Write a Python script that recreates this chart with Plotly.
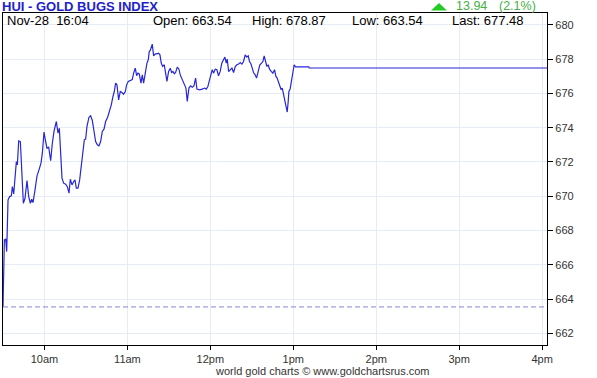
import datetime as dt
import plotly.graph_objects as go

# ---- data ----
session_date = "2023-11-28"
open_time = "09:30"
minutes_after_open = [
    0, 1.0, 1.95, 2.67, 3.64, 4.84, 6.05, 6.77, 7.74, 8.94,
    9.66, 10.39, 11.35, 12.55, 13.52, 14.72, 15.93, 17.37, 18.58, 19.78,
    20.75, 21.71, 23.16, 24.6, 26.05, 27.49, 28.46, 29.66, 30.63, 31.83,
    33.04, 34.48, 35.69, 36.89, 38.58, 39.78, 40.75, 41.71, 42.68, 43.88,
    45.33, 46.53, 47.74, 48.7, 49.9, 51.11, 52.07, 53.04, 54.24, 55.45,
    56.41, 57.62, 58.82, 59.78, 60.75, 62.19, 63.4, 64.6, 65.81, 67.01,
    68.22, 69.42, 70.63, 71.83, 73.04, 74.24, 75.69, 77.13, 78.34, 79.54,
    80.51, 81.47, 82.43, 83.64, 84.84, 86.05, 87.25, 88.46, 89.42, 90.63,
    92.07, 93.52, 94.48, 95.69, 96.65, 97.62, 98.58, 99.79, 100.75, 101.72,
    102.92, 104.13, 105.09, 105.81, 106.53, 107.98, 108.94, 110.15, 111.35, 112.56,
    113.52, 114.48, 115.45, 116.65, 117.62, 118.58, 119.79, 120.99, 121.96, 122.92,
    123.89, 124.85, 126.06, 127.26, 128.22, 129.19, 130.15, 131.36, 132.32, 133.28,
    134.49, 135.69, 136.9, 138.1, 139.31, 140.27, 142.2, 144.1, 145.8, 147.0,
    148.2, 149.4, 150.4, 151.35, 152.3, 153.5, 154.7, 155.9, 157.1, 158.3,
    159.5, 160.5, 161.5, 162.2, 163.2, 164.4, 165.6, 166.8, 168.0, 169.2,
    170.4, 171.6, 172.8, 174.0, 175.2, 176.4, 177.4, 178.3, 179.3, 180.3,
    181.2, 182.4, 183.4, 184.6, 185.8, 187.0, 188.0, 188.9, 189.9, 190.9,
    191.8, 192.8, 194.0, 195.2, 196.4, 197.4, 198.3, 199.3, 200.3, 201.2,
    202.0, 202.9, 203.9, 204.9, 205.6, 206.3, 206.8, 207.7, 208.7, 209.7,
    210.6, 211.6, 221.2, 221.5, 394,
]
index_values = [
    663.54, 667.45, 667.49, 666.77, 669.78, 669.98, 670.02, 670.56, 670.13, 671.15,
    672.02, 671.83, 673.23, 673.19, 671.54, 669.59, 669.88, 670.91, 669.98, 669.59,
    669.82, 669.63, 670.37, 671.19, 671.54, 671.93, 672.51, 673.74, 673.29, 672.80,
    672.86, 672.08, 673.09, 673.78, 674.36, 673.68, 673.97, 672.31, 671.05, 670.76,
    670.70, 670.56, 670.18, 670.99, 670.66, 670.86, 670.95, 670.47, 670.47, 670.95,
    671.63, 672.22, 673.29, 673.33, 674.07, 674.61, 674.69, 674.42, 673.87, 673.19,
    673.00, 672.94, 673.19, 673.78, 673.91, 674.36, 674.61, 674.94, 675.33, 675.82,
    676.11, 676.60, 676.50, 675.62, 676.11, 676.05, 675.95, 676.11, 676.50, 676.70,
    676.74, 676.80, 677.18, 677.47, 677.03, 677.18, 677.14, 676.60, 677.08, 676.60,
    677.18, 677.77, 677.96, 678.45, 678.51, 678.87, 678.19, 678.31, 678.31, 678.35,
    678.25, 677.77, 677.57, 677.67, 677.18, 676.70, 677.28, 677.47, 677.22, 677.28,
    677.14, 677.22, 677.53, 677.41, 677.08, 676.89, 676.80, 676.50, 676.31, 675.53,
    676.31, 676.44, 676.36, 676.44, 676.89, 676.25, 676.21, 676.25, 676.31, 676.25,
    676.40, 676.79, 677.18, 677.38, 677.18, 677.41, 677.38, 677.03, 677.28, 677.77,
    677.96, 678.12, 677.77, 678.00, 677.28, 677.38, 677.47, 677.22, 677.57, 677.67,
    677.71, 677.80, 677.71, 677.86, 678.25, 678.12, 678.19, 677.86, 677.73, 677.47,
    677.22, 677.08, 676.89, 677.28, 677.67, 677.77, 677.86, 678.19, 677.77, 677.57,
    677.67, 677.41, 677.28, 677.18, 677.38, 676.99, 676.89, 676.60, 676.44, 676.21,
    676.31, 675.92, 675.53, 675.14, 674.91, 675.53, 676.11, 676.25, 676.79, 677.28,
    677.67, 677.55, 677.55, 677.48, 677.48,
]
hour_ticks = ["10:00", "11:00", "12:00", "13:00", "14:00", "15:00", "16:00"]
hour_labels = ["10am", "11am", "12pm", "1pm", "2pm", "3pm", "4pm"]
y_ticks = [662, 664, 666, 668, 670, 672, 674, 676, 678, 680]

title_text = "HUI - GOLD BUGS INDEX"
stamp_text = "Nov-28\u00a0\u00a016:04"
open_value = 663.54
high_value = 678.87
low_value = 663.54
last_value = 677.48
change_value = 13.94
change_pct = "2.1%"
footer_text = "world gold charts \u00a9 www.goldchartsrus.com"

# ---- build ----
base = dt.datetime.fromisoformat(f"{session_date} {open_time}")
times = [(base + dt.timedelta(minutes=m)).isoformat() for m in minutes_after_open]
tickvals = [f"{session_date} {t}" for t in hour_ticks]

FONT = "Liberation Sans, Arial, sans-serif"
W, H = 597, 378
ML, MR, MT, MB = 3, 50, 13, 33
PW, PH = W - ML - MR, H - MT - MB


def px(x):
    return (x - ML) / PW


def py(y):
    return (H - MB - y) / PH


fig = go.Figure()
fig.add_trace(go.Scatter(
    x=times, y=index_values, mode="lines",
    line=dict(color="#2727d6", width=1.2),
    hoverinfo="skip", showlegend=False,
))

fig.add_shape(type="line", xref="paper", yref="y", x0=0, x1=1,
              y0=open_value, y1=open_value,
              line=dict(color="#8585dd", width=1, dash="5px,3px"))

# green "up" arrow next to the change figure
tri = [(431, 10.5), (447, 10.5), (439, 3)]
path = "M {} {} L {} {} L {} {} Z".format(
    *[v for p in tri for v in (px(p[0]), py(p[1]))])
fig.add_shape(type="path", xref="paper", yref="paper", path=path,
              fillcolor="#22cc22", line=dict(width=0))

grid = "#e5ecf3"
fig.update_xaxes(
    type="date",
    range=[f"{session_date} 09:30", f"{session_date} 16:03:30"],
    tickvals=tickvals, ticktext=hour_labels,
    showgrid=True, gridcolor=grid, gridwidth=1,
    ticks="outside", ticklen=4, tickcolor="#000", tickwidth=1,
    showline=True, linecolor="#000", linewidth=1.3, mirror=True,
    tickfont=dict(family=FONT, size=11, color="#333"),
    zeroline=False, fixedrange=True,
)
fig.update_yaxes(
    range=[661.32, 680.69], side="right",
    tickvals=y_ticks, ticktext=[str(v) for v in y_ticks],
    showgrid=True, gridcolor=grid, gridwidth=1,
    ticks="outside", ticklen=5, tickcolor="#000", tickwidth=1,
    showline=True, linecolor="#000", linewidth=1.3, mirror=True,
    tickfont=dict(family=FONT, size=11, color="#333"),
    zeroline=False, fixedrange=True,
)

ann = []


def add(text, x, y, size=13, color="#000", bold=False, xanchor="left"):
    ann.append(dict(
        text=f"<b>{text}</b>" if bold else text,
        x=px(x), y=py(y), xref="paper", yref="paper",
        xanchor=xanchor, yanchor="middle", showarrow=False,
        font=dict(family=FONT, size=size, color=color),
        borderpad=0,
    ))


add(title_text, 1, 7, size=13, color="#2222cc", bold=True)
add(stamp_text, 6, 21)
add(f"Open: {open_value:.2f}", 152, 21)
add(f"High: {high_value:.2f}", 251, 21)
add(f"Low: {low_value:.2f}", 351, 21)
add(f"Last: {last_value:.2f}", 451, 21)
add(f"{change_value:.2f}", 454.5, 6.5, size=12.5, color="#44b044")
add(f"({change_pct})", 498, 6.5, size=12.5, color="#44b044")
add(footer_text, 322, 371, size=11, color="#333", xanchor="center")

fig.update_layout(
    width=W, height=H,
    margin=dict(l=ML, r=MR, t=MT, b=MB, pad=0),
    paper_bgcolor="#fff", plot_bgcolor="#fff",
    annotations=ann,
    showlegend=False,
)

fig.write_html("out.html", config={"displayModeBar": False})
